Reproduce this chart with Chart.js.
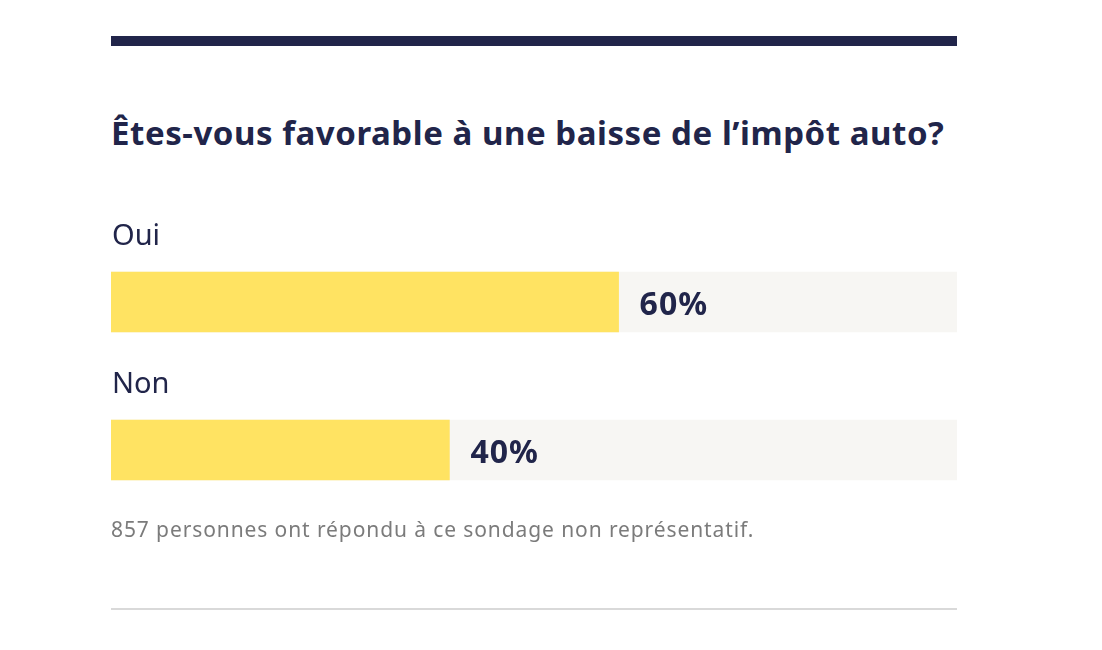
<!DOCTYPE html>
<html>
<head>
<meta charset="utf-8">
<script src="https://cdn.jsdelivr.net/npm/chart.js@4"></script>
<style>
  html, body { margin: 0; padding: 0; background: #fff; }
  body { width: 1102px; height: 650px; position: relative; overflow: hidden; font-family: "Noto Sans", Roboto, sans-serif; }
  .topRule { position: absolute; left: 111px; top: 36px; width: 846px; height: 10px; background: #21254a; }
  .title { position: absolute; left: 111px; top: 111px; font-size: 33px; line-height: 44px; font-weight: 700; letter-spacing: 0.55px; color: #21254a; white-space: nowrap; }
  .note { position: absolute; left: 111px; top: 515px; font-size: 21px; line-height: 28px; letter-spacing: 0.9px; color: #7b7b7b; white-space: nowrap; }
  .bottomRule { position: absolute; left: 111px; top: 608px; width: 846px; height: 2px; background: #d9d9d9; }
  #pollChart { position: absolute; left: 111px; top: 200px; }
</style>
</head>
<body>
<div class="topRule"></div>
<div class="title">Êtes-vous favorable à une baisse de l’impôt auto?</div>
<canvas id="pollChart" width="846" height="324"></canvas>
<div class="note">857 personnes ont répondu à ce sondage non représentatif.</div>
<div class="bottomRule"></div>

<script>
const answers = ['Oui', 'Non'];
const percents = [60, 40];
const fullScale = [100, 100];

const navy = '#21254a';

// draws "Oui"/"Non" above each bar and the percentage after the yellow part
const barLabels = {
    id: 'barLabels',
    afterDatasetsDraw(chart) {
        const ctx = chart.ctx;
        const meta = chart.getDatasetMeta(0);
        ctx.save();
        ctx.fillStyle = navy;
        ctx.textBaseline = 'alphabetic';
        meta.data.forEach(function (bar, i) {
            ctx.textAlign = 'left';
            ctx.letterSpacing = '0px';
            ctx.font = '400 29px "Noto Sans", Roboto, sans-serif';
            ctx.fillText(answers[i], chart.chartArea.left + 1, bar.y - 57);
            ctx.letterSpacing = '1px';
            ctx.font = '700 32px "Noto Sans", Roboto, sans-serif';
            ctx.fillText(percents[i] + '%', bar.x + 21, bar.y + 13);
        });
        ctx.restore();
    }
};

const data = {
    labels: answers,
    datasets: [
        {
            data: percents,
            backgroundColor: '#ffe362',
            grouped: false,
            barThickness: 60
        },
        {
            data: fullScale,
            backgroundColor: '#f7f6f3',
            grouped: false,
            barThickness: 60
        }
    ]
};

const config = {
    type: 'bar',
    data: data,
    options: {
        indexAxis: 'y',
        responsive: false,
        animation: false,
        layout: { padding: { top: 28, left: 0, right: 0, bottom: 0 } },
        plugins: {
            legend: { display: false },
            tooltip: { enabled: false }
        },
        scales: {
            x: { min: 0, max: 100, display: false },
            y: { display: false }
        }
    },
    plugins: [barLabels]
};

const pollChart = new Chart(document.getElementById('pollChart'), config);
</script>
</body>
</html>
